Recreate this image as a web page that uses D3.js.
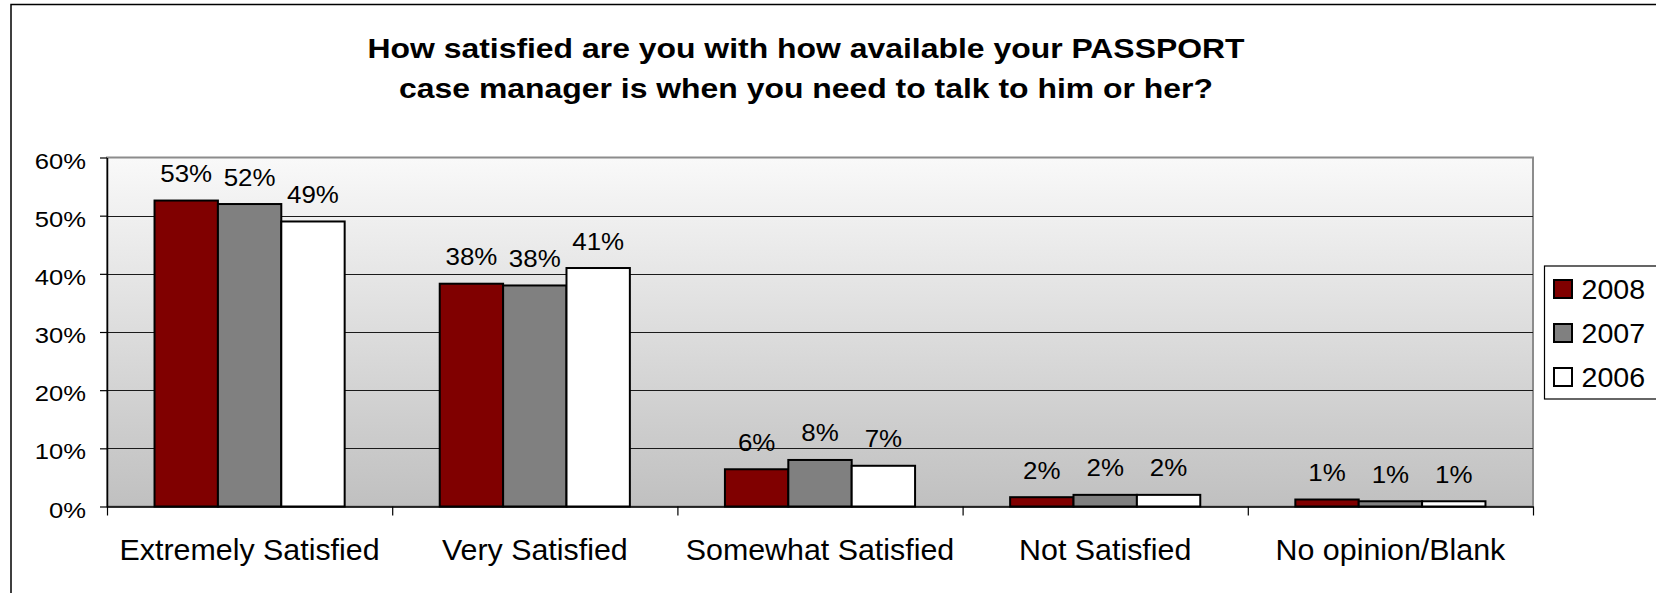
<!DOCTYPE html>
<html>
<head>
<meta charset="utf-8">
<script src="https://cdn.jsdelivr.net/npm/d3@7/dist/d3.min.js"></script>
<style>
  html, body { margin: 0; padding: 0; background: #ffffff; }
  svg { display: block; }
  text { font-family: "Liberation Sans", Arial, sans-serif; fill: #000; }
</style>
</head>
<body>
<svg id="chart" width="1656" height="593"></svg>
<script>
// ---- data ----
const titleLines = ["How satisfied are you with how available your PASSPORT",
                    "case manager is when you need to talk to him or her?"];
const categories = ["Extremely Satisfied", "Very Satisfied", "Somewhat Satisfied", "Not Satisfied", "No opinion/Blank"];
const seriesNames = ["2008", "2007", "2006"];
const values2008 = [0.526, 0.383, 0.064, 0.016, 0.012];
const values2007 = [0.520, 0.380, 0.080, 0.020, 0.009];
const values2006 = [0.490, 0.410, 0.070, 0.020, 0.009];
const seriesColors = ["#800000", "#808080", "#ffffff"];
const yTicks = [0, 0.1, 0.2, 0.3, 0.4, 0.5, 0.6];

const seriesValues = [values2008, values2007, values2006];

// ---- layout ----
const svg = d3.select("#chart");
const plot = { left: 107, top: 157.5, right: 1533, bottom: 506.5 };

// outer chart border (cropped at right/bottom in the reference)
svg.append("rect")
  .attr("x", 11).attr("y", 4.5).attr("width", 1700).attr("height", 700)
  .attr("fill", "none").attr("stroke", "#000").attr("stroke-width", 1.5);

// gradient
const defs = svg.append("defs");
const grad = defs.append("linearGradient").attr("id", "bg")
  .attr("x1", 0).attr("y1", 0).attr("x2", 0).attr("y2", 1);
grad.append("stop").attr("offset", "0%").attr("stop-color", "#f9f9f9");
grad.append("stop").attr("offset", "100%").attr("stop-color", "#c0c0c0");

const x0 = d3.scaleBand().domain(categories).range([plot.left, plot.right]).paddingInner(0).paddingOuter(0);
const barW = x0.bandwidth() / 4.5;
const x1 = d3.scaleBand().domain(seriesNames).range([0.75 * barW, 3.75 * barW]).padding(0);
const y = d3.scaleLinear().domain([0, 0.6]).range([plot.bottom, plot.top]);

// plot area background
svg.append("rect")
  .attr("x", plot.left).attr("y", plot.top)
  .attr("width", plot.right - plot.left).attr("height", plot.bottom - plot.top)
  .attr("fill", "url(#bg)").attr("stroke", "#8c8c8c").attr("stroke-width", 2);

// gridlines
svg.append("g").attr("class", "grid")
  .attr("transform", `translate(${plot.left},0)`)
  .call(d3.axisLeft(y).tickValues(yTicks.slice(1, -1)).tickSize(-(plot.right - plot.left)).tickFormat(""))
  .call(g => g.select(".domain").remove())
  .call(g => g.selectAll("line").attr("stroke", "#1a1a1a").attr("stroke-width", 1).attr("shape-rendering", "crispEdges"));

// bars
const groups = svg.append("g").selectAll("g")
  .data(categories).join("g")
  .attr("transform", d => `translate(${x0(d)},0)`);

groups.selectAll("rect")
  .data((c, i) => seriesNames.map((s, j) => ({ s, j, v: seriesValues[j][i] })))
  .join("rect")
  .attr("x", d => x1(d.s))
  .attr("y", d => y(d.v))
  .attr("width", x1.bandwidth())
  .attr("height", d => y(0) - y(d.v))
  .attr("fill", d => seriesColors[d.j])
  .attr("stroke", "#000").attr("stroke-width", 2);

// data labels
const fmt = d3.format(".0%");
groups.selectAll("text.lbl")
  .data((c, i) => seriesNames.map((s, j) => ({ s, j, v: seriesValues[j][i] })))
  .join("text").attr("class", "lbl")
  .attr("text-anchor", "middle")
  .attr("font-size", 24)
  .attr("transform", d => `translate(${x1(d.s) + x1.bandwidth() / 2},${y(d.v) - 18.5}) scale(1.08,1)`)
  .text(d => fmt(d.v));

// y axis
svg.append("g")
  .attr("transform", `translate(${plot.left},0)`)
  .call(d3.axisLeft(y).tickValues(yTicks).tickSizeInner(7).tickSizeOuter(0).tickFormat(fmt))
  .call(g => g.select(".domain").attr("stroke", "#000").attr("stroke-width", 1.5))
  .call(g => g.selectAll("line").attr("stroke", "#000").attr("stroke-width", 1.2))
  .call(g => g.selectAll("text")
      .attr("x", null).attr("dy", null)
      .attr("font-size", 21.5).attr("font-family", "Liberation Sans, Arial, sans-serif").attr("fill", "#000")
      .attr("text-anchor", "end")
      .attr("transform", "translate(-21,10.5) scale(1.19,1)"));

// x axis (boundary ticks)
const xb = d3.scaleLinear().domain([0, categories.length]).range([plot.left, plot.right]);
svg.append("g")
  .attr("transform", `translate(0,${plot.bottom})`)
  .call(d3.axisBottom(xb).tickValues(d3.range(categories.length + 1)).tickSizeInner(9).tickSizeOuter(0).tickFormat(""))
  .call(g => g.select(".domain").attr("stroke", "#000").attr("stroke-width", 1.5))
  .call(g => g.selectAll("line").attr("stroke", "#000").attr("stroke-width", 1.2));

// category labels
svg.append("g").selectAll("text")
  .data(categories).join("text")
  .attr("text-anchor", "middle")
  .attr("font-size", 29.5)
  .attr("transform", d => `translate(${x0(d) + x0.bandwidth() / 2},560) scale(1.03,1)`)
  .text(d => d);

// title
svg.append("g").selectAll("text")
  .data(titleLines).join("text")
  .attr("text-anchor", "middle")
  .attr("font-size", 28.5).attr("font-weight", "bold")
  .attr("transform", (d, i) => `translate(806,${57.7 + i * 40.6}) scale(1.12,1)`)
  .text(d => d);

// legend
const legend = svg.append("g").attr("transform", "translate(1544.5,266)");
legend.append("rect")
  .attr("x", 0).attr("y", 0).attr("width", 200).attr("height", 133)
  .attr("fill", "#fff").attr("stroke", "#000").attr("stroke-width", 1.2);
const li = legend.selectAll("g.item").data(seriesNames).join("g").attr("class", "item")
  .attr("transform", (d, i) => `translate(0,${14 + i * 44})`);
li.append("rect")
  .attr("x", 9.5).attr("y", 0).attr("width", 18).attr("height", 18)
  .attr("fill", (d, i) => seriesColors[i]).attr("stroke", "#000").attr("stroke-width", 2);
li.append("text")
  .attr("font-size", 27.5)
  .attr("transform", "translate(37,18.5) scale(1.04,1)")
  .text(d => d);
</script>
</body>
</html>
